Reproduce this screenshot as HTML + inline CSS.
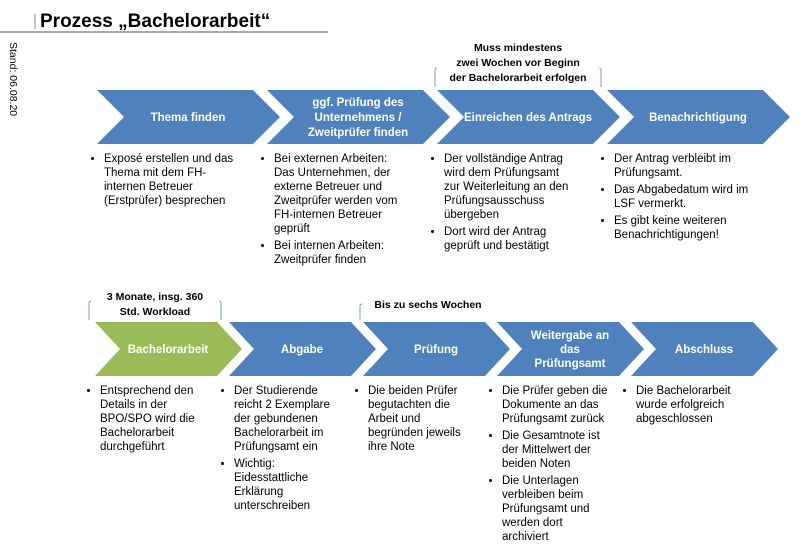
<!DOCTYPE html>
<html><head><meta charset="utf-8"><style>
body{margin:0;width:800px;height:552px;background:#fff;position:relative;overflow:hidden;font-family:"Liberation Sans",sans-serif;}
.t{position:absolute;font-size:11.5px;line-height:14px;color:#000;}
.t ul{margin:0;padding:0 0 0 12px;}
.t li{margin-bottom:3px;}
</style></head><body>
<svg width="800" height="552" style="position:absolute;left:0;top:0" font-family="Liberation Sans, sans-serif">
<line x1="0" y1="32" x2="328" y2="32" stroke="#555" stroke-width="1"/>
<line x1="35" y1="14" x2="35" y2="29" stroke="#888" stroke-width="1"/>
<text x="40" y="27" font-size="19" font-weight="bold">Prozess „Bachelorarbeit“</text>
<text transform="translate(10,42) rotate(90)" font-size="10.5">Stand: 06.08.20</text>
<g fill="#4f81bd">
<polygon points="97,90 253,90 280,117 253,144 97,144 124,117"/>
<polygon points="267,90 423,90 450,117 423,144 267,144 294,117"/>
<polygon points="437,90 593,90 620,117 593,144 437,144 464,117"/>
<polygon points="607,90 763,90 790,117 763,144 607,144 634,117"/>
<polygon points="229,322 351,322 376,349 351,376 229,376 254,349"/>
<polygon points="363,322 485,322 510,349 485,376 363,376 388,349"/>
<polygon points="497,322 619,322 644,349 619,376 497,376 522,349"/>
<polygon points="631,322 753,322 778,349 753,376 631,376 656,349"/>
</g>
<polygon fill="#9bbb59" points="95,322 217,322 242,349 217,376 95,376 120,349"/>
<g fill="#fff" font-weight="bold" font-size="11.5" text-anchor="middle">
<text x="188" y="121">Thema finden</text>
<text x="358" y="106">ggf. Prüfung des</text>
<text x="358" y="121">Unternehmens /</text>
<text x="358" y="136">Zweitprüfer finden</text>
<text x="528" y="121">Einreichen des Antrags</text>
<text x="698" y="121">Benachrichtigung</text>
<text x="168" y="353">Bachelorarbeit</text>
<text x="302" y="353">Abgabe</text>
<text x="436" y="353">Prüfung</text>
<text x="570" y="339">Weitergabe an</text>
<text x="570" y="353">das</text>
<text x="570" y="367">Prüfungsamt</text>
<text x="704" y="353">Abschluss</text>
</g>
<g fill="none" stroke="#7f9fcf" stroke-width="1">
<path d="M435,87 V70 Q435,68 437,68"/><path d="M601,87 V70 Q601,68 599,68"/>
<path d="M89,320 V303 Q89,301 91,301"/><path d="M221,320 V303 Q221,301 219,301"/>
<path d="M360,320 V306 Q360,304 362,304"/>
</g>
<g font-weight="bold" font-size="10.5" text-anchor="middle">
<text x="518" y="51">Muss mindestens</text>
<text x="518" y="66">zwei Wochen vor Beginn</text>
<text x="518" y="81">der Bachelorarbeit erfolgen</text>
<text x="155" y="300">3 Monate, insg. 360</text>
<text x="155" y="315">Std. Workload</text>
<text x="428" y="308">Bis zu sechs Wochen</text>
</g>
</svg>
<div class="t" style="left:92px;top:152px;width:144px"><ul><li>Exposé erstellen und das Thema mit dem FH-internen Betreuer (Erstprüfer) besprechen</li></ul></div>
<div class="t" style="left:262px;top:152px;width:142px"><ul><li>Bei externen Arbeiten: Das Unternehmen, der externe Betreuer und Zweitprüfer werden vom FH-internen Betreuer geprüft</li><li>Bei internen Arbeiten: Zweitprüfer finden</li></ul></div>
<div class="t" style="left:432px;top:152px;width:142px"><ul><li>Der vollständige Antrag wird dem Prüfungsamt zur Weiterleitung an den Prüfungsausschuss übergeben</li><li>Dort wird der Antrag geprüft und bestätigt</li></ul></div>
<div class="t" style="left:602px;top:152px;width:152px"><ul><li>Der Antrag verbleibt im Prüfungsamt.</li><li>Das Abgabedatum wird im LSF vermerkt.</li><li>Es gibt keine weiteren Benachrichtigungen!</li></ul></div>
<div class="t" style="left:88px;top:384px;width:114px"><ul><li>Entsprechend den Details in der BPO/SPO wird die Bachelorarbeit durchgeführt</li></ul></div>
<div class="t" style="left:222px;top:384px;width:114px"><ul><li>Der Studierende reicht 2 Exemplare der gebundenen Bachelorarbeit im Prüfungsamt ein</li><li>Wichtig: Eidesstattliche Erklärung unterschreiben</li></ul></div>
<div class="t" style="left:356px;top:384px;width:114px"><ul><li>Die beiden Prüfer begutachten die Arbeit und begründen jeweils ihre Note</li></ul></div>
<div class="t" style="left:490px;top:384px;width:120px"><ul><li>Die Prüfer geben die Dokumente an das Prüfungsamt zurück</li><li>Die Gesamtnote ist der Mittelwert der beiden Noten</li><li>Die Unterlagen verbleiben beim Prüfungsamt und werden dort archiviert</li></ul></div>
<div class="t" style="left:624px;top:384px;width:124px"><ul><li>Die Bachelorarbeit wurde erfolgreich abgeschlossen</li></ul></div>
</body></html>
